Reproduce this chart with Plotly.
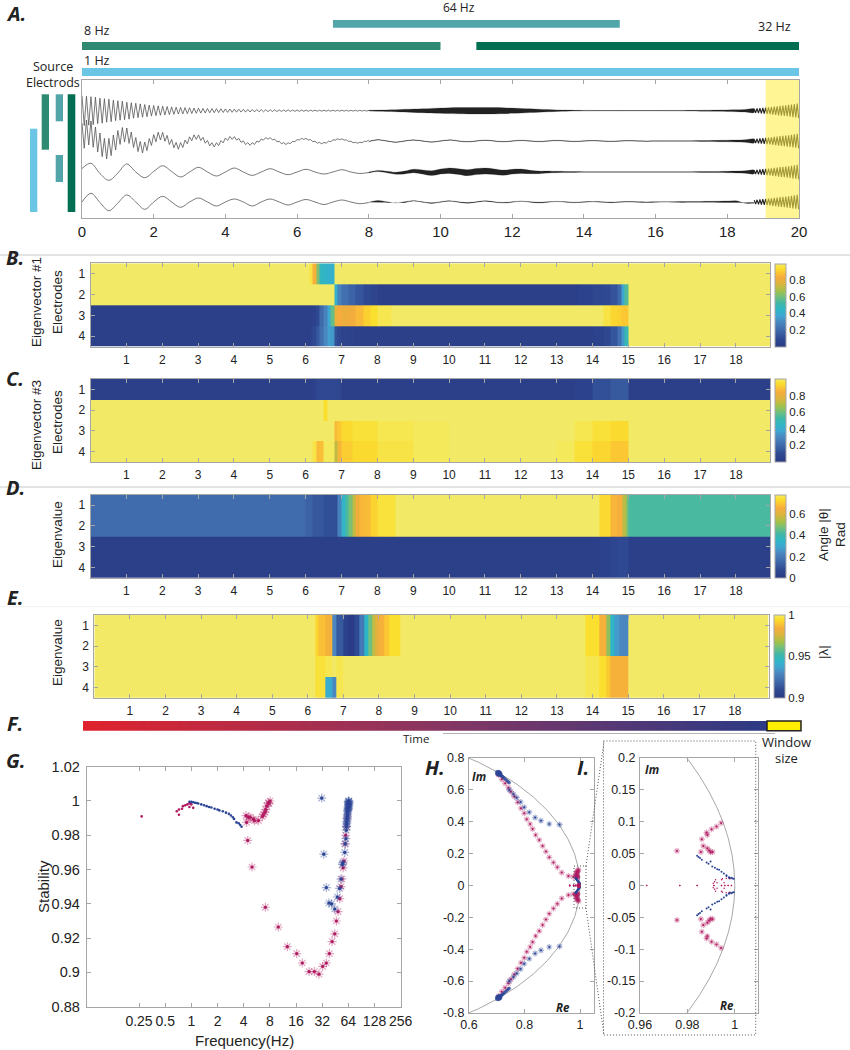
import plotly.graph_objects as go

WIDTH = 850
HEIGHT = 1050

# Panel A: frequency bands (seconds)
BAND_LABELS = ["1 Hz", "8 Hz", "64 Hz", "32 Hz"]
BAND_START = [0, 0, 7, 11]
BAND_END = [20, 10, 15, 20]
WINDOW_START = 19.07
WINDOW_END = 20

# Panel A: 8 Hz oscillation, one value every 1/16 s from t=0 to t=8
CH1_EARLY = [
    15, -15, 14.5, -14.5, 14, -14, 13.5, -13, 12.5, -12.5, 12, -11.5, 11.5, -11, 10.5, -10,
    10, -9.5, 9.5, -9, 8.5, -8.5, 8, -7.5, 7.5, -7, 6.8, -6.5, 6.2, -6, 5.6, -5.4,
    5.2, -5, 4.8, -4.6, 4.5, -4.3, 4.2, -4, 3.8, -3.7, 3.5, -3.4, 3.3, -3.2, 3.1, -3,
    2.9, -2.8, 2.7, -2.6, 2.5, -2.4, 2.3, -2.3, 2.2, -2.1, 2.1, -2, 2, -1.9, 1.9, -1.8,
    1.8, -1.7, 1.7, -1.6, 1.6, -1.5, 1.5, -1.4, 1.4, -1.4, 1.3, -1.3, 1.2, -1.2, 1.2, -1.1,
    1.1, -1.1, 1, -1, 1, -.9, .9, -.9, .9, -.8, .8, -.8, .8, -.7, .7, -.7,
    .7, -.7, .6, -.6, .6, -.6, .6, -.5, .5, -.5, .5, -.5, .5, -.5, .5, -.5,
    .5, -.5, .5, -.5, .4, -.4, .4, -.4, .4, -.4, .4, -.4, .4, -.4, .4, -.4, .4,
]
CH2_EARLY = [
    18, -7.3, 21, -4, 20, -6.3, 14, -11, 8, -15.7, 2.6, -18, 2.6, -14.7, 6, -9,
    10.5, -3.4, 13.5, -1, 13, -2.4, 9, -6.5, 3.5, -10.6, -.5, -12, -1, -9.6, 2.5, -4.5,
    6.4, -.8, 8.8, 1, 8.6, -.3, 5.6, -3.5, 1.6, -6.8, -1.4, -8.2, -1.6, -6.5, 1, -2.8,
    4.2, .2, 6.2, 1.6, 6.1, .5, 3.7, -2.2, .6, -4.9, -1.7, -6, -1.7, -4.7, .4, -1.9,
    3, .6, 4.5, 1.6, 4.4, .8, 2.6, -1.4, .1, -3.6, -1.6, -4.4, -1.7, -3.5, -.1, -1.1,
    2, .9, 3.5, 1.8, 3.4, 1, 1.9, -.8, -.2, -2.7, -1.7, -3.5, -1.8, -2.6, -.3, -.7,
    1.4, 1, 2.6, 1.6, 2.6, 1, 1.4, -.6, -.2, -2.2, -1.4, -2.8, -1.4, -2.2, -.2, -.6,
    1.1, .9, 2.1, 1.4, 2.1, .9, 1.1, -.4, -.3, -1.7, -1.3, -2.2, -1.3, -1.7, -.3, -.4, 1,
]
# Panel A: 1 Hz oscillation, one value every 1/4 s from t=0 to t=8
CH3_EARLY = [3.5, 8.7, -1.5, -8.3, -1, 8, 0, -5.7, .5, 6.3, .5, -5, 0, 4.7, 0, -4, 0,
             4, 0, -3.4, 0, 3.3, 0, -2.7, 0, 2.7, 0, -2, 0, 2.3, 0, -1.5, -.5]
CH4_EARLY = [0, 8.7, -.5, -8.7, -1, 7, 0, -7.3, 0, 5.7, 0, -5.3, 0, 4, 0, -4, 0,
             3, 0, -4, 0, 3, 0, -3, 0, 2.5, 0, -2.5, 0, 2, 0, -1.7, -.5]

# Panel A: band centre and half width of the dense part, one value every 1/4 s, t=8 to t=18.75
LATE_T = [8, 8.25, 8.5, 8.75, 9, 9.25, 9.5, 9.75, 10, 10.25, 10.5, 10.75, 11, 11.25, 11.5, 11.75,
          12, 12.25, 12.5, 12.75, 13, 13.25, 13.5, 13.75, 14, 14.25, 14.5, 14.75, 15, 15.25, 15.5,
          15.75, 16, 16.25, 16.5, 16.75, 17, 17.25, 17.5, 17.75, 18, 18.25, 18.5, 18.75]
CH1_CENTER = [0] * 44
CH1_HALF = [.4, .6, .8, 1, 1.4, 1.7, 2, 2.3, 2.6, 2.9, 3.1, 3.2, 3.3, 3.3, 3.2, 3, 2.6, 2.3, 1.9, 1.5,
            1.1, .8, .6, .4, .3, .25, .2, .2, .2, .2, .2, .2, .2, .25, .25, .3, .35, .45, .55, .65,
            .8, 1, 1.3, 1.8]
CH2_CENTER = [-.5, 1.2, 0, -1.2, 0, 1, 0, -1, 0, 1, 0, -.8, 0, .8, 0, -.7, 0, .6, 0, -.5, 0, .5, 0, -.4,
              0, .3, 0, -.3, 0, .2, 0, -.2, 0, 0, 0, 0, 0, 0, 0, 0, 0, 0, 0, 0]
CH2_HALF = [.25, .25, .25, .25, .25, .25, .25, .25, .25, .25, .25, .25, .25, .25, .25, .25, .25, .25,
            .25, .25, .25, .25, .25, .25, .25, .25, .25, .25, .25, .25, .25, .25, .25, .25, .3, .3,
            .35, .4, .5, .65, .8, 1, 1.3, 1.9]
CH3_CENTER = [-.5, 1, 0, -1.2, -.5, 1, 0, -1.2, .4, 1.3, .4, -.7, .4, 1, .3, -.7, .3, .8, 0, -.4, 0,
              0, 0, 0, 0, 0, 0, 0, 0, 0, 0, 0, 0, 0, 0, 0, 0, 0, 0, 0, 0, 0, 0, 0]
CH3_HALF = [.4, .6, .8, 1, 1.4, 1.8, 2.1, 2.4, 2.5, 2.7, 2.8, 3, 3, 3, 2.8, 2.6, 2.4, 2.2, 1.7, 1.3,
            1, .7, .5, .4, .3, .25, .2, .2, .2, .2, .2, .2, .2, .25, .25, .3, .3, .4, .5, .6, .7, .9,
            1.2, 1.8]
CH4_CENTER = [-.5, 1.3, 0, -1.2, 0, 1.1, 0, -1, 0, 1.1, 0, -.8, 0, .9, 0, -.7, 0, .7, 0, -.5, 0, .4, 0,
              -.4, 0, .3, 0, -.3, 0, .2, 0, -.2, 0, 0, 0, 0, 0, 0, 0, 0, 0, 0]
CH4_HALF = [.25, .25, .25, .25, .25, .25, .25, .25, .25, .25, .25, .25, .25, .25, .25, .25, .25, .25,
            .25, .25, .25, .25, .25, .25, .25, .25, .25, .25, .25, .25, .25, .25, .25, .3, .35, .4,
            .45, .55, .65, .8, 1, 1.2, 1.5, 2.1]
# Panel A: last stretch of all four channels, one value every 0.04 s from t=18.75
TAIL_T0 = 18.75
TAIL_STEP = .04
TAIL = [1.9, -2, 2.2, -2.3, 2.5, -2.6, 2.8, -2.9, 3.1, -3.2, 3.4, -3.5, 3.7, -3.9, 4.1, -4.2, 4.4, -4.6, 4.8, -4.9,
        5.1, -5.3, 5.5, -5.6, 5.8, -6, 6.2, -6.4, 6.6, -6.8, 7.1, -7.4]

# Panels B-E: column edges (time) and four rows of cell values
B_EDGES = [0, 6.1, 6.2, 6.3, 6.4, 6.5, 6.6, 6.7, 6.8, 6.9, 7, 7.2, 7.4, 7.6, 7.8, 8, 8.4, 13.6, 14, 14.3,
           14.5, 14.7, 14.8, 14.9, 15, 18.95]
B_ROW1 = [1, .97, .85, .62, .46, .44, .42, .42, 1, 1, 1, 1, 1, 1, 1, 1, 1, 1, 1, 1, 1, 1, 1, 1, 1]
B_ROW2 = [1, 1, 1, 1, 1, 1, 1, 1, .42, .28, .22, .18, .14, .1, .07, .04, .03, .05, .08, .1, .13, .2, .38, .55, 1]
B_ROW3 = [.03, .03, .05, .1, .2, .28, .38, .58, .8, .84, .82, .83, .87, .92, .95, .98, 1, 1, 1, .97, .93, .92, .9, .9, 1]
B_ROW4 = [.03, .05, .1, .15, .22, .3, .36, .34, .12, .08, .06, .05, .03, .03, .03, .03, .03, .03, .05, .08, .14, .22, .34, .5, 1]

C_EDGES = [0, 6.2, 6.3, 6.4, 6.5, 6.6, 6.8, 6.9, 7, 7.3, 8, 9, 10, 13, 13.5, 14, 14.5, 15, 18.95]
C_ROW1 = [.03, .05, .09, .09, .09, .09, .09, .08, .04, .03, .03, .03, .03, .03, .05, .12, .15, .03]
C_ROW2 = [1, 1, 1, 1, .95, 1, 1, 1, 1, 1, 1, 1, 1, 1, 1, 1, 1, 1]
C_ROW3 = [1, 1, 1, 1, 1, 1, .87, .9, .94, .96, .98, .99, 1, 1, .98, .96, .94, 1]
C_ROW4 = [1, .97, .87, .88, .99, .99, .72, .86, .91, .94, .97, .99, 1, .99, .96, .93, .9, 1]

D_EDGES = [0, 6, 6.2, 6.5, 6.9, 7, 7.1, 7.2, 7.3, 7.4, 7.5, 7.6, 7.8, 8, 8.5, 14.2, 14.5, 14.7, 14.85, 14.95, 15, 18.95]
D_ROW1 = [.16, .14, .11, .09, .22, .34, .42, .48, .56, .64, .67, .68, .72, .75, .78, .73, .67, .66, .55, .47, .42]
D_ROW2 = [.16, .14, .11, .09, .22, .34, .42, .48, .56, .64, .67, .68, .72, .75, .78, .73, .67, .66, .55, .47, .42]
D_ROW3 = [.03, .03, .03, .03, .03, .03, .03, .03, .03, .03, .03, .03, .03, .03, .03, .04, .06, .07, .07, .07, .03]
D_ROW4 = [.03, .03, .03, .03, .03, .03, .03, .03, .03, .03, .03, .03, .03, .03, .03, .04, .06, .07, .07, .07, .03]

E_EDGES = [0, 6.2, 6.3, 6.5, 6.7, 6.8, 7, 7.15, 7.3, 7.45, 7.6, 7.7, 7.8, 7.9, 8, 8.15, 8.3, 8.6, 13.8, 14.2, 14.4, 14.5,
           14.6, 14.75, 15, 18.95]
E_ROW1 = [1, .993, .988, .985, .93, .915, .905, .9, .91, .925, .945, .96, .972, .98, .985, .99, .995, 1, .995, .985, .965,
          .945, .935, .93, 1]
E_ROW2 = [1, .993, .988, .985, .93, .915, .905, .9, .91, .925, .945, .96, .972, .98, .985, .99, .995, 1, .995, .985, .965,
          .945, .935, .93, 1]
E_ROW3 = [1, .996, .996, .998, 1, .998, 1, 1, 1, 1, 1, 1, 1, 1, 1, 1, 1, 1, .998, .995, .99, .985, .985, .985, 1]
E_ROW4 = [1, .996, .996, .94, .93, .998, 1, 1, 1, 1, 1, 1, 1, 1, 1, 1, 1, 1, .998, .995, .99, .985, .985, .985, 1]

# Panel F: time bar
F_VALUES = [0, .25, .5, .75, 1]

# Panel G: stability against frequency
G_RED_DOT_F = [.268, .68, .72, .72, .78, .8, .85, .9, .95, .95, 1.05, 1, .98]
G_RED_DOT_S = [.991, .994, .992, .995, .9955, .997, .9975, .998, .9965, .9985, .996, .998, .999]
G_BLUE_DOT_F = [.95, 1, 1.05, 1.1, 1.15, 1.2, 1.3, 1.4, 1.5, 1.6, 1.7, 1.85, 2, 2.1, 2.3, 2.5, 2.7, 2.85,
                3, 3.1, 3.3, 3.5, 3.65, 3.78]
G_BLUE_DOT_S = [.9995, .9995, .9993, .999, .9988, .9985, .998, .9975, .997, .9965, .9962, .9955, .995,
                .9945, .994, .9932, .9925, .9915, .9905, .9895, .9875, .987, .986, .985]
G_RED_STAR_F = [4.26, 4.53, 4.73, 5.17, 5.31, 5.9, 6.56, 6.74, 7.05, 7.17, 7.37, 7.68, 8.03, 7.8, 4.32, 4.45,
                4.99, 7.1, 10, 12.7, 16.3, 18.9, 22.6, 26, 29.4, 32.4, 35.7, 38.7, 41.6, 44.6, 46.6, 48.7,
                51, 52.7, 54, 55.7, 57, 58.5, 59.5, 61, 62]
G_RED_STAR_S = [.9915, .9905, .9905, .9895, .9885, .9885, .991, .992, .9935, .995, .997, .999, 1, .9985, .9875,
                .977, .9615, .938, .9265, .915, .911, .9055, .9005, .9005, .899, .9035, .9055, .911, .918,
                .9225, .93, .9355, .943, .95, .9545, .961, .965, .975, .98, .985, .99]
G_BLUE_STAR_F = [31.6, 33.4, 35.7, 38.3, 41, 44.6, 47.8, 50.8, 52.5, 54.6, 55.3, 58.2, 59, 60, 60.5, 60.8, 61,
                 61.5, 61.3, 62, 61.8, 62.5, 62.2, 63, 62.6, 63.5, 63, 64, 63.4, 64.5, 63.8, 64.8, 64.2, 65,
                 64.5, 65, 63.5, 64.5, 65]
G_BLUE_STAR_S = [1.0017, .969, .9495, .9405, .94, .937, .944, .949, .9545, .963, .964, .97, .975, .978, .983,
                 .985, .986, .987, .988, .989, .99, .991, .992, .993, .994, .9945, .995, .9955, .996, .9965,
                 .997, .9975, .998, .9985, .999, .9995, .9995, 1, 1]

# Panels H, I: eigenvalues in the complex plane, upper half (the lower half is the conjugate)
H_RED_RE = [.706, .718, .73, .742, .751, .763, .775, .787, .799, .808, .82, .829, .84, .853, .865, .877, .889,
            .904, .918, .934, .958]
H_RED_IM = [.693, .666, .641, .614, .589, .558, .522, .485, .453, .416, .386, .355, .317, .286, .248, .213, .177,
            .144, .115, .081, .06]
H_BLUE_RE = [.745, .76, .772, .786, .799, .817, .838, .859, .889, .926]
H_BLUE_IM = [.6, .574, .551, .524, .491, .46, .426, .407, .386, .382]
H_PACK_RE = [.704, .706, .708, .71, .712, .714, .717, .72, .723, .726, .73, .734, .738, .742, .745]
H_PACK_IM = [.708, .705, .702, .699, .696, .692, .688, .684, .679, .674, .668, .662, .656, .65, .645]
I_RED_RE = [.9942, .9923, .9902, .9884, .9881, .9861, .9867, .9857, .9884, .9892, .9898, .9906, .9756]
I_RED_IM = [.098, .0924, .0883, .0794, .083, .0726, .0621, .0527, .0585, .0548, .0522, .0527, .0543]
I_BLUE_RE = [.9841, .9847, .9853, .9861, .9881, .9889, .9898, .9905, .9916, .9926, .9934, .9944, .9954, .9965,
             .9965, .9975, .9976, .998, .9986, .999, .9996]
I_BLUE_IM = [.0465, .0449, .0433, .0402, .036, .034, .0376, .0298, .0277, .0256, .0246, .0214, .0188, .0162,
             .0148, .012, .0131, .0115, .012, .011, .0104]
I_DOT_RE = [.9628, .9768, .9841, .9909, .9912, .9915, .9919, .9925, .9944, .9958, .9972, .9986, .9944, .9948,
            .9964, .9978, .9955]
I_DOT_IM = [0, 0, 0, .0036, 0, .006, .0089, .0045, 0, 0, 0, 0, .0089, .0105, .0115, .0105, .0045]

PARULA = [[0, "#2a3a85"], [.1, "#2f4a92"], [.2, "#3f69ab"], [.3, "#4a87c0"], [.38, "#3ea8d2"], [.45, "#2fb6c6"],
          [.52, "#3db7aa"], [.6, "#6fbf7e"], [.68, "#a7c148"], [.76, "#dab53d"], [.84, "#f5ac3d"], [.9, "#fbc833"],
          [.95, "#fbdf2f"], [1, "#f2ea66"]]
FRAME = "#a6a6a6"
FONT = "Liberation Sans"
LABEL_FONT = "Open Sans"
RED = "#b0185f"
BLUE = "#2c4496"
RED_HALO = "rgba(176,24,95,.38)"
BLUE_HALO = "rgba(44,68,150,.42)"


def px_x(p):
    return p / WIDTH


def px_y(p):
    return 1 - p / HEIGHT


def domain_x(left, right):
    return [px_x(left), px_x(right)]


def domain_y(top, bottom):
    return [px_y(bottom), px_y(top)]


def frame_axis(domain, anchor, rng, **kw):
    return dict(domain=domain, anchor=anchor, range=rng, showgrid=False, zeroline=False, showline=True,
                linecolor=FRAME, linewidth=1, mirror="ticks", ticks="inside", ticklen=4, tickcolor=FRAME,
                tickwidth=1, tickangle=0, tickfont=dict(family=FONT, size=12, color="#222"), **kw)


fig = go.Figure()
shapes = []
annotations = []


def label(x, y, text, size=13, family=LABEL_FONT, angle=0, anchor="center", color="#222"):
    annotations.append(dict(x=px_x(x), y=px_y(y), xref="paper", yref="paper", text=text, showarrow=False,
                            xanchor=anchor, yanchor="middle", textangle=angle,
                            font=dict(family=family, size=size, color=color)))


def box(x0, y0, x1, y1, fill, line=None, width=0, dash=None, layer="above"):
    shapes.append(dict(type="rect", xref="paper", yref="paper", x0=px_x(x0), x1=px_x(x1), y0=px_y(y0), y1=px_y(y1),
                       fillcolor=fill, line=dict(color=line, width=width, dash=dash), layer=layer))


def rule(x0, y0, x1, y1, color, width=1, dash=None):
    shapes.append(dict(type="line", xref="paper", yref="paper", x0=px_x(x0), x1=px_x(x1), y0=px_y(y0), y1=px_y(y1),
                       line=dict(color=color, width=width, dash=dash)))


# Panel A traces
CHANNELS = [
    (CH1_EARLY, .0625, "linear", CH1_CENTER, CH1_HALF, 107.3),
    (CH2_EARLY, .0625, "linear", CH2_CENTER, CH2_HALF, 77),
    (CH3_EARLY, .25, "spline", CH3_CENTER, CH3_HALF, 46),
    (CH4_EARLY, .25, "spline", CH4_CENTER, CH4_HALF, 16),
]
for early, step, shape, center, half, base in CHANNELS:
    fig.add_trace(go.Scatter(x0=0, dx=step, y=[v + base for v in early], mode="lines",
                             line=dict(color="#555555", width=.8, shape=shape), xaxis="x", yaxis="y"))
    upper = [base + c + h for c, h in zip(center, half)]
    lower = [base + c - h for c, h in zip(center, half)]
    fig.add_trace(go.Scatter(x=LATE_T + LATE_T[::-1], y=upper + lower[::-1], mode="lines", fill="toself",
                             fillcolor="rgba(10,10,10,.9)", line=dict(color="rgba(10,10,10,.5)", width=.4, shape="spline"),
                             xaxis="x", yaxis="y"))
    fig.add_trace(go.Scatter(x0=TAIL_T0, dx=TAIL_STEP, y=[v + base for v in TAIL], mode="lines",
                             line=dict(color="#222222", width=1.1), xaxis="x", yaxis="y"))

# yellow analysis window, laid over the traces
shapes.append(dict(type="rect", xref="x", yref="paper", x0=WINDOW_START, x1=WINDOW_END, y0=px_y(218), y1=px_y(80),
                   fillcolor="rgba(255,238,70,.58)", line=dict(width=0), layer="above"))

# frequency bands over the signal axes
BAND_COLORS = ["#6bc5e5", "#2f8a74", "#52a5a9", "#006e50"]
BAND_ROWS = [(68, 76), (42, 50), (20, 27.7), (42, 50)]
for start, end, color, (top, bottom) in zip(BAND_START, BAND_END, BAND_COLORS, BAND_ROWS):
    shapes.append(dict(type="rect", xref="x", yref="paper", x0=start, x1=end, y0=px_y(bottom), y1=px_y(top),
                       fillcolor=color, line=dict(width=0)))
label(82, 60, BAND_LABELS[0], size=12.5, anchor="left")
label(82, 31, BAND_LABELS[1], size=12.5, anchor="left")
label(459, 7, BAND_LABELS[2], size=12)
label(774, 26, BAND_LABELS[3], size=12.5)
label(53, 67, "Source", size=12.5)
label(53, 83, "Electrods", size=12.5)
box(30, 128.7, 37.3, 212, BAND_COLORS[0])
box(41.7, 94.3, 49, 149.7, BAND_COLORS[1])
box(55.7, 94.3, 63, 121.3, BAND_COLORS[2])
box(55.7, 155, 63, 182, BAND_COLORS[2])
box(67.7, 94.3, 75.3, 212, BAND_COLORS[3])

# Panels B-E heatmaps
HEAT_PANELS = [
    (B_EDGES, [B_ROW1, B_ROW2, B_ROW3, B_ROW4], 0, 1, 263.3, 346.7, 90.5, 770, 775, [.2, .4, .6, .8], ["0.2", "0.4", "0.6", "0.8"]),
    (C_EDGES, [C_ROW1, C_ROW2, C_ROW3, C_ROW4], 0, 1, 379, 462, 90.5, 770, 775, [.2, .4, .6, .8], ["0.2", "0.4", "0.6", "0.8"]),
    (D_EDGES, [D_ROW1, D_ROW2, D_ROW3, D_ROW4], 0, .78, 494.7, 578, 90.5, 770, 775, [0, .2, .4, .6], ["0", "0.2", "0.4", "0.6"]),
    (E_EDGES, [E_ROW1, E_ROW2, E_ROW3, E_ROW4], .9, 1, 615, 697.7, 94.3, 768.6, 774, [.9, .95, 1], ["0.9", "0.95", "1"]),
]
layout_axes = {}
for i, (edges, rows, zmin, zmax, top, bottom, left, right, bar_x, bar_vals, bar_text) in enumerate(HEAT_PANELS):
    n = i + 2
    fig.add_trace(go.Heatmap(
        x=edges, y=[1, 2, 3, 4], z=rows, zmin=zmin, zmax=zmax, colorscale=PARULA, xaxis=f"x{n}", yaxis=f"y{n}",
        colorbar=dict(x=px_x(bar_x), xanchor="left", y=px_y((top + bottom) / 2), yanchor="middle",
                      lenmode="fraction", len=(bottom - top) / HEIGHT, thickness=11, thicknessmode="pixels",
                      outlinecolor=FRAME, outlinewidth=1, ticks="", tickmode="array", tickvals=bar_vals,
                      ticktext=bar_text, tickfont=dict(family=FONT, size=11.5, color="#222"), ypad=0, xpad=0),
    ))
    layout_axes[f"xaxis{n}"] = frame_axis(domain_x(left, right), f"y{n}", [0, 18.95],
                                          tickmode="array", tickvals=list(range(1, 19)), ticklabelstandoff=2)
    layout_axes[f"yaxis{n}"] = frame_axis(domain_y(top, bottom), f"x{n}", [4.5, .5],
                                          tickmode="array", tickvals=[1, 2, 3, 4], ticklabelstandoff=2)

# Panel F time bar
fig.add_trace(go.Heatmap(z=[F_VALUES], x=[0, .25, .5, .75, 1], y=[0], zsmooth="best", showscale=False,
                         colorscale=[[0, "#e0222d"], [.5, "#8a3560"], [1, "#2b3a85"]], xaxis="x6", yaxis="y6"))
layout_axes["xaxis6"] = dict(domain=domain_x(83, 767), anchor="y6", visible=False, range=[0, 1])
layout_axes["yaxis6"] = dict(domain=domain_y(721, 730.7), anchor="x6", visible=False)
box(767, 721, 801, 730.7, "#ffee00", line="#222", width=1.5)
rule(443, 733.5, 775, 733.5, "#b5b5b5")
label(416, 738, "Time", size=11.5)
label(786, 742, "Window", size=13)
label(786, 758, "size", size=13)


def stars(x, y, color, halo, axes, size=9, core=3.2):
    fig.add_trace(go.Scatter(x=x, y=y, mode="markers", xaxis=axes[0], yaxis=axes[1],
                             marker=dict(symbol="asterisk-open", size=size, color=halo, line=dict(color=halo, width=1.2))))
    fig.add_trace(go.Scatter(x=x, y=y, mode="markers", xaxis=axes[0], yaxis=axes[1],
                             marker=dict(symbol="circle", size=core, color=color, line=dict(width=0))))


def dots(x, y, color, axes, size=2.6):
    fig.add_trace(go.Scatter(x=x, y=y, mode="markers", xaxis=axes[0], yaxis=axes[1],
                             marker=dict(symbol="circle", size=size, color=color, line=dict(width=0))))


def both_re(values):
    return values + values


def both_im(values):
    return values + [-v for v in values]


# Panel G
G_AXES = ("x7", "y7")
dots(G_RED_DOT_F, G_RED_DOT_S, RED, G_AXES)
stars(G_RED_STAR_F, G_RED_STAR_S, RED, RED_HALO, G_AXES, size=7.5)
stars(G_BLUE_STAR_F, G_BLUE_STAR_S, BLUE, BLUE_HALO, G_AXES, size=7.5)
dots(G_BLUE_DOT_F, G_BLUE_DOT_S, BLUE, G_AXES)
layout_axes["xaxis7"] = frame_axis(domain_x(86.7, 400.7), "y7", [-1.20412, 2.40824], type="log", tickmode="array",
                                   tickvals=[.25, .5, 1, 2, 4, 8, 16, 32, 64, 128, 256],
                                   ticktext=["0.25", "0.5", "1", "2", "4", "8", "16", "32", "64", "128", "256"],
                                   ticklabelstandoff=1)
layout_axes["yaxis7"] = frame_axis(domain_y(766.7, 1006.7), "x7", [.88, 1.02], tickmode="array",
                                   tickvals=[.88, .9, .92, .94, .96, .98, 1, 1.02],
                                   ticktext=["0.88", "0.9", "0.92", "0.94", "0.96", "0.98", "1", "1.02"],
                                   ticklabelstandoff=3)
layout_axes["xaxis7"]["tickfont"]["size"] = 14
layout_axes["yaxis7"]["tickfont"]["size"] = 14.5
label(43, 887, "Stability", size=15, family=FONT, angle=-90)
label(245, 1040, "Frequency(Hz)", size=15, family=FONT)

# Panel H
H_AXES = ("x8", "y8")
stars(both_re(H_RED_RE + I_RED_RE), both_im(H_RED_IM + I_RED_IM), RED, RED_HALO, H_AXES, size=5, core=2)
stars(both_re(H_BLUE_RE), both_im(H_BLUE_IM), BLUE, BLUE_HALO, H_AXES, size=5, core=2)
fig.add_trace(go.Scatter(x=both_re(H_PACK_RE), y=both_im(H_PACK_IM), mode="markers", xaxis="x8", yaxis="y8",
                         marker=dict(symbol="circle", size=[6] * 4 + [3.5] * 11 + [6] * 4 + [3.5] * 11, color=BLUE, line=dict(width=0))))
dots(both_re(I_BLUE_RE), both_im(I_BLUE_IM), BLUE, H_AXES, size=2.2)
dots(both_re(I_DOT_RE), both_im(I_DOT_IM), RED, H_AXES, size=1.8)
layout_axes["xaxis8"] = frame_axis(domain_x(469, 593.7), "y8", [.6, 1.049], tickmode="array", tickvals=[.6, .8, 1],
                                   ticktext=["0.6", "0.8", "1"], ticklabelstandoff=0)
layout_axes["yaxis8"] = frame_axis(domain_y(758, 1013), "x8", [-.8, .8], tickmode="array",
                                   tickvals=[-.8, -.6, -.4, -.2, 0, .2, .4, .6, .8],
                                   ticktext=["-0.8", "-0.6", "-0.4", "-0.2", "0", "0.2", "0.4", "0.6", "0.8"],
                                   ticklabelstandoff=1)
layout_axes["xaxis8"]["tickfont"]["size"] = 12.5
layout_axes["yaxis8"]["tickfont"]["size"] = 12.5

# Panel I
I_AXES = ("x9", "y9")
stars(both_re(I_RED_RE), both_im(I_RED_IM), RED, RED_HALO, I_AXES, size=5, core=2)
dots(both_re(I_BLUE_RE), both_im(I_BLUE_IM), BLUE, I_AXES, size=2)
dots(both_re(I_DOT_RE), both_im(I_DOT_IM), RED, I_AXES, size=1.5)
layout_axes["xaxis9"] = frame_axis(domain_x(640, 758), "y9", [.96, 1.0098], tickmode="array", tickvals=[.96, .98, 1],
                                   ticktext=["0.96", "0.98", "1"], ticklabelstandoff=0)
layout_axes["yaxis9"] = frame_axis(domain_y(758, 1013), "x9", [-.2, .2], tickmode="array",
                                   tickvals=[-.2, -.15, -.1, -.05, 0, .05, .1, .15, .2],
                                   ticktext=["-0.2", "-0.15", "-0.1", "-0.05", "0", "0.05", "0.1", "0.15", "0.2"],
                                   ticklabelstandoff=1)
layout_axes["xaxis9"]["tickfont"]["size"] = 12.5
layout_axes["yaxis9"]["tickfont"]["size"] = 12.5

# unit circle in the two complex-plane panels
for xr, yr in [("x8", "y8"), ("x9", "y9")]:
    shapes.append(dict(type="circle", xref=xr, yref=yr, x0=-1, x1=1, y0=-1, y1=1, line=dict(color="#a8a8a8", width=1), layer="below"))

# zoom box and its connecting lines
DOTTED = "#555555"
DOT_DASH = "1px,2px"
box(574, 866, 586, 908, "rgba(0,0,0,0)", line=DOTTED, width=1, dash=DOT_DASH)
rule(586, 866, 604, 742, DOTTED, dash=DOT_DASH)
rule(586, 908, 604, 1035, DOTTED, dash=DOT_DASH)
box(603.5, 741, 755.7, 1035, "rgba(0,0,0,0)", line=DOTTED, width=1, dash=DOT_DASH)

# small labels
label(479, 776, "<b><i>Im</i></b>", size=11.5)
label(563, 1007, "<b><i>Re</i></b>", size=11.5)
label(652, 769, "<b><i>Im</i></b>", size=11.5)
label(727, 1005, "<b><i>Re</i></b>", size=11.5)

# section rules and axis titles
rule(0, 255, WIDTH, 255, "#c8c8c8")
rule(0, 487, WIDTH, 487, "#c8c8c8")
rule(0, 606.7, WIDTH, 606.7, "#f2f2f2")
label(36, 302, "Eigenvector #1", size=13.5, family=FONT, angle=-90)
label(57, 302, "Electrodes", size=13.5, family=FONT, angle=-90)
label(36, 425, "Eigenvector #3", size=13.5, family=FONT, angle=-90)
label(57, 422, "Electrodes", size=13.5, family=FONT, angle=-90)
label(57, 535, "Eigenvalue", size=13.5, family=FONT, angle=-90)
label(57, 653, "Eigenvalue", size=13.5, family=FONT, angle=-90)
label(823, 535, "Angle |θ|", size=13.5, family=FONT, angle=-90)
label(840, 535, "Rad", size=13.5, family=FONT, angle=-90)
label(823, 652, "|λ|", size=13.5, family=FONT, angle=-90)

for x, y, letter in [(16, 14, "A."), (15, 257, "B."), (15, 378, "C."), (15, 488, "D."), (15, 597, "E."), (15, 723, "F."),
                     (16, 760, "G."), (435, 767, "H."), (583, 767, "I.")]:
    label(x, y, f"<b><i>{letter}</i></b>", size=20)

layout_axes["xaxis"] = frame_axis(domain_x(82, 799), "y", [0, 20], tickmode="array",
                                  tickvals=list(range(0, 21, 2)), ticklabelstandoff=0)
layout_axes["xaxis"]["tickfont"]["size"] = 15
layout_axes["yaxis"] = dict(domain=domain_y(80, 218), anchor="x", range=[0, 138], showgrid=False, zeroline=False,
                            showline=True, linecolor=FRAME, mirror=True, showticklabels=False, ticks="")

fig.update_layout(width=WIDTH, height=HEIGHT, margin=dict(l=0, r=0, t=0, b=0, autoexpand=False), showlegend=False,
                  plot_bgcolor="white", paper_bgcolor="white", font=dict(family=FONT),
                  shapes=shapes, annotations=annotations, **layout_axes)

fig.write_html("out.html", config={"displayModeBar": False}, post_script="document.body.style.margin='0';")
